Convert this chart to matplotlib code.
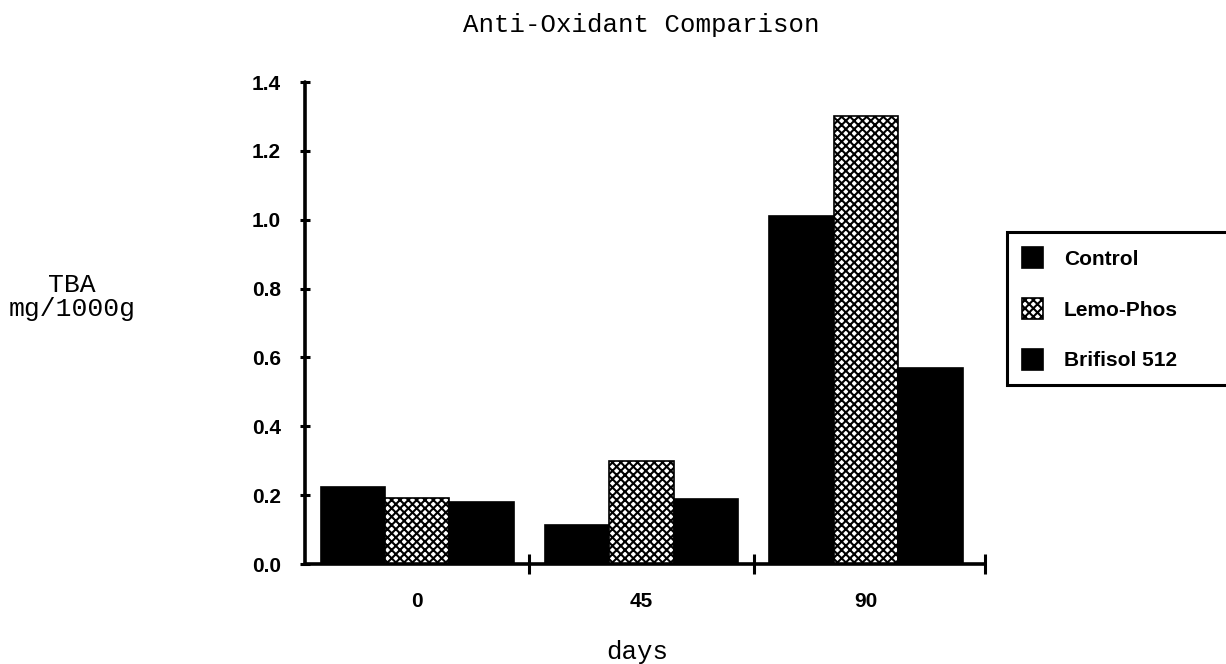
import matplotlib
matplotlib.use("Agg")
import matplotlib.pyplot as plt
import numpy as np

# TBA readings (mg/1000g) after storage
days = ["0", "45", "90"]
control = [0.225, 0.113, 1.01]
lemo_phos = [0.192, 0.30, 1.30]
brifisol_512 = [0.180, 0.189, 0.57]
series_names = ["Control", "Lemo-Phos", "Brifisol 512"]
y_ticks = [0.0, 0.2, 0.4, 0.6, 0.8, 1.0, 1.2, 1.4]

plt.rcParams["hatch.linewidth"] = 1.5
plt.rcParams["hatch.color"] = "black"

fig = plt.figure(figsize=(12.26, 6.64), dpi=100)
ax = fig.add_axes([305 / 1226, 1 - 564 / 664, 680 / 1226, (564 - 82) / 664])

x = np.arange(len(days))
width = 0.287
bar_kw = dict(edgecolor="black", linewidth=1.2)
b1 = ax.bar(x - width, control, width, color="black", label=series_names[0], **bar_kw)
b2 = ax.bar(x, lemo_phos, width, color="white", hatch="xxxx",
            label=series_names[1], **bar_kw)
b3 = ax.bar(x + width, brifisol_512, width, color="black", label=series_names[2], **bar_kw)

ax.set_xlim(-0.5, 2.53)
ax.set_ylim(0, 1.4)

for side in ("top", "right"):
    ax.spines[side].set_visible(False)
for side in ("left", "bottom"):
    ax.spines[side].set_linewidth(2.6)
    ax.spines[side].set_capstyle("round")

tick_font = dict(family="Liberation Sans", weight="bold", size=15)

ax.set_yticks(y_ticks)
ax.set_yticklabels([f"{v:.1f}" for v in y_ticks], fontdict=tick_font)
ax.tick_params(axis="y", direction="inout", length=7, width=2.2, pad=14)

ax.set_xticks(x)
ax.set_xticklabels(days, fontdict=tick_font)
ax.tick_params(axis="x", which="major", length=0, pad=20)
ax.set_xticks([0.5, 1.5, 2.53], minor=True)
ax.tick_params(axis="x", which="minor", direction="inout", length=14, width=2.2)

mono = "Liberation Mono"
fig.text(641 / 1226, 1 - 25 / 664, "Anti-Oxidant Comparison", family=mono,
         size=18.5, ha="center", va="center")
ax.set_ylabel("TBA\nmg/1000g", family=mono, size=19, rotation=0,
              ha="center", va="center", multialignment="center", linespacing=1.0)
ax.yaxis.set_label_coords((72 - 305) / 680, (564 - 297) / 482)
ax.set_xlabel("days", family=mono, size=18.5, va="center")
ax.xaxis.set_label_coords((637 - 305) / 680, (564 - 652) / 482)

leg = fig.legend(handles=[b1, b2, b3], labels=series_names,
                 loc="upper left",
                 bbox_to_anchor=(1007 / 1226, 1 - 232 / 664, 240 / 1226, 0),
                 mode="expand", borderaxespad=0, frameon=True, fancybox=False,
                 edgecolor="black", framealpha=1,
                 prop=dict(family="Liberation Sans", weight="bold", size=15),
                 handlelength=1.0, handleheight=1.2, handletextpad=1.0,
                 labelspacing=1.4, borderpad=0.72)
leg.get_frame().set_linewidth(2.2)

fig.savefig("out.png", dpi=100)
